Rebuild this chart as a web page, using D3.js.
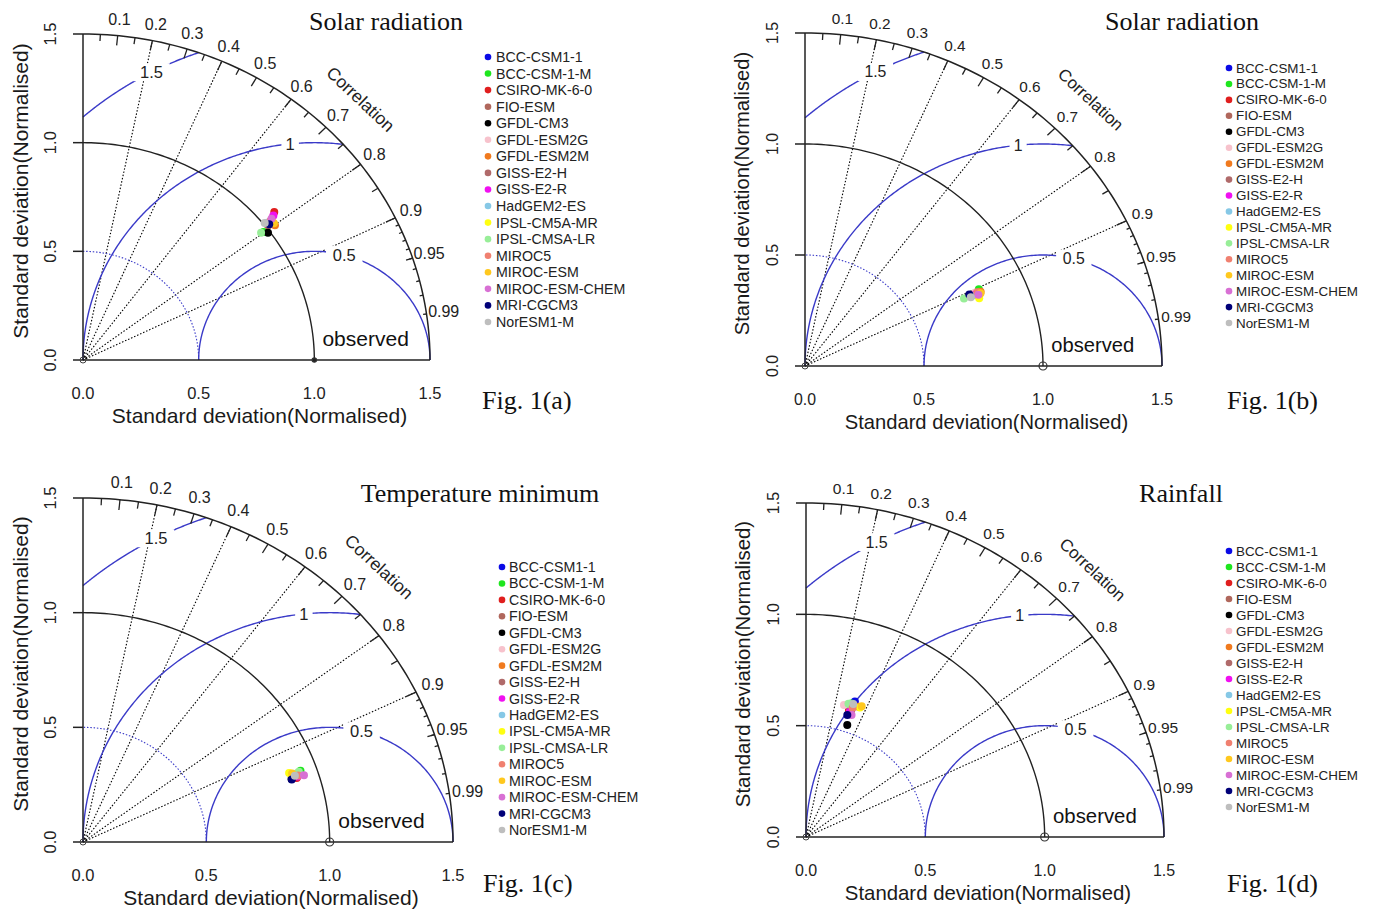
<!DOCTYPE html>
<html>
<head>
<meta charset="utf-8">
<script src="https://cdn.jsdelivr.net/npm/d3@7"></script>
<style>
  body { margin: 0; background: #fff; }
  svg { display: block; }
</style>
</head>
<body>
<svg id="chart" width="1375" height="912"></svg>
<script>
// model names and colours (same in every panel)
const models = ['BCC-CSM1-1', 'BCC-CSM-1-M', 'CSIRO-MK-6-0', 'FIO-ESM', 'GFDL-CM3', 'GFDL-ESM2G',
  'GFDL-ESM2M', 'GISS-E2-H', 'GISS-E2-R', 'HadGEM2-ES', 'IPSL-CM5A-MR', 'IPSL-CMSA-LR',
  'MIROC5', 'MIROC-ESM', 'MIROC-ESM-CHEM', 'MRI-CGCM3', 'NorESM1-M'];
const modelColors = ['#0a0ae6', '#1ee61e', '#e01e1e', '#b0675c', '#000000', '#f7c2cc',
  '#f07a1e', '#b06a6a', '#f010f0', '#86c8e6', '#ffff10', '#98ee98',
  '#f08070', '#ffc81e', '#d870d4', '#000078', '#bebebe'];

// axis values
const sdTicks = [0, 0.5, 1, 1.5];
const corrLabels = [0.1, 0.2, 0.3, 0.4, 0.5, 0.6, 0.7, 0.8, 0.9, 0.95, 0.99];
const corrLines = [0.2, 0.4, 0.6, 0.8, 0.9];
const rmsLevels = [0.5, 1, 1.5];
const maxSd = 1.5;
const refSd = 1;

const panelTitles = ['Solar radiation', 'Solar radiation', 'Temperature minimum', 'Rainfall'];
const figLabels = ['Fig. 1(a)', 'Fig. 1(b)', 'Fig. 1(c)', 'Fig. 1(d)'];

// normalised standard deviation and correlation of each model, per panel
const sdA = [1.018, 0.978, 1.071, 1.012, 0.991, 1.053, 1.036, 1.023, 1.058, 1.016, 1.036, 0.967, 1.032, 1.038, 1.042, 1.019, 1.007];
const corrA = [0.786, 0.798, 0.772, 0.790, 0.807, 0.779, 0.801, 0.792, 0.778, 0.783, 0.787, 0.796, 0.785, 0.795, 0.782, 0.790, 0.780];

const sdB = [0.770, 0.808, 0.792, 0.781, 0.760, 0.787, 0.810, 0.783, 0.790, 0.768, 0.793, 0.734, 0.797, 0.807, 0.796, 0.762, 0.762];
const corrB = [0.909, 0.904, 0.909, 0.909, 0.908, 0.908, 0.911, 0.913, 0.911, 0.912, 0.923, 0.910, 0.909, 0.914, 0.915, 0.906, 0.914];

const sdC = [0.895, 0.935, 0.910, 0.901, 0.889, 0.920, 0.912, 0.908, 0.916, 0.907, 0.888, 0.927, 0.919, 0.899, 0.942, 0.889, 0.906];
const corrC = [0.950, 0.943, 0.952, 0.949, 0.951, 0.945, 0.948, 0.947, 0.950, 0.946, 0.941, 0.944, 0.949, 0.943, 0.951, 0.952, 0.948];

const sdD = [0.642, 0.629, 0.598, 0.604, 0.532, 0.614, 0.625, 0.601, 0.592, 0.625, 0.624, 0.624, 0.612, 0.632, 0.580, 0.575, 0.629];
const corrD = [0.319, 0.302, 0.301, 0.306, 0.325, 0.259, 0.352, 0.316, 0.311, 0.294, 0.362, 0.285, 0.319, 0.369, 0.329, 0.301, 0.315];

const panelData = [[sdA, corrA], [sdB, corrB], [sdC, corrC], [sdD, corrD]];

// pixel layout of each panel
const layout = [
  { ox: 83, oy: 360, xr: 430, yt: 34, fs: 1.0, obsFilled: true,
    titleX: 386, titleY: 30, figX: 482, figY: 409,
    legDot: 488, legText: 496, legY: 57, legStep: 16.56, legFont: 14.2 },
  { ox: 805, oy: 366, xr: 1162, yt: 33, fs: 0.96, obsFilled: false,
    titleX: 1182, titleY: 30, figX: 1227, figY: 409,
    legDot: 1229, legText: 1236, legY: 68, legStep: 15.94, legFont: 13.4 },
  { ox: 83, oy: 842, xr: 453, yt: 498, fs: 1.0, obsFilled: false,
    titleX: 480, titleY: 502, figX: 483, figY: 892,
    legDot: 502, legText: 509, legY: 567, legStep: 16.44, legFont: 14.2 },
  { ox: 806, oy: 837, xr: 1164, yt: 503, fs: 0.97, obsFilled: false,
    titleX: 1181, titleY: 502, figX: 1227, figY: 892,
    legDot: 1229, legText: 1236, legY: 551, legStep: 16, legFont: 13.4 }
];

const blue = '#3a3ac8';
const sans = 'Liberation Sans, Arial, sans-serif';
const serif = 'Liberation Serif, Times New Roman, serif';

const svg = d3.select('#chart');

layout.forEach((L, p) => drawTaylor(L, p));

function drawTaylor(L, p) {
  const [sds, cors] = panelData[p];
  const g = svg.append('g');
  const x = d3.scaleLinear().domain([0, maxSd]).range([L.ox, L.xr]);
  const y = d3.scaleLinear().domain([0, maxSd]).range([L.oy, L.yt]);
  const line = d3.line().x(d => x(d[0])).y(d => y(d[1]));

  // arc around the origin
  function sdArc(r) {
    return d3.range(0, 91, 1).map(a => [r * Math.cos(a * Math.PI / 180), r * Math.sin(a * Math.PI / 180)]);
  }

  // correlation rays
  corrLines.forEach(c => {
    g.append('path')
      .attr('d', line([[0, 0], [maxSd * c, maxSd * Math.sqrt(1 - c * c)]]))
      .attr('fill', 'none').attr('stroke', '#000').attr('stroke-width', 1.1)
      .attr('stroke-dasharray', '1.5,1.8');
  });

  // dotted blue sd arc at 0.5
  g.append('path').attr('d', line(sdArc(0.5)))
    .attr('fill', 'none').attr('stroke', blue).attr('stroke-width', 1.1)
    .attr('stroke-dasharray', '1.5,1.8');

  // RMS difference arcs centred on the observed point
  rmsLevels.forEach(r => {
    const t0 = Math.acos(Math.max(-1, Math.min(1, (maxSd * maxSd - refSd * refSd - r * r) / (2 * refSd * r))));
    const t1 = Math.acos(Math.max(-1, -refSd / r));
    const pts = d3.range(0, 201).map(i => {
      const t = t0 + (t1 - t0) * i / 200;
      return [refSd + r * Math.cos(t), r * Math.sin(t)];
    });
    g.append('path').attr('d', line(pts))
      .attr('fill', 'none').attr('stroke', blue).attr('stroke-width', 1.4);
  });

  // reference arc and outer arc
  g.append('path').attr('d', line(sdArc(refSd)))
    .attr('fill', 'none').attr('stroke', '#222').attr('stroke-width', 1.4);
  g.append('path').attr('d', line(sdArc(maxSd)))
    .attr('fill', 'none').attr('stroke', '#222').attr('stroke-width', 1.5);

  // axes
  g.append('line').attr('x1', x(0)).attr('x2', x(maxSd)).attr('y1', y(0)).attr('y2', y(0))
    .attr('stroke', '#222').attr('stroke-width', 1.5);
  g.append('line').attr('x1', x(0)).attr('x2', x(0)).attr('y1', y(0)).attr('y2', y(maxSd))
    .attr('stroke', '#222').attr('stroke-width', 1.5);
  sdTicks.forEach(v => {
    g.append('line').attr('x1', x(0) - 10).attr('x2', x(0)).attr('y1', y(v)).attr('y2', y(v))
      .attr('stroke', '#222').attr('stroke-width', 1.5);
    g.append('text')
      .attr('transform', `translate(${x(0) - 33},${y(v)}) rotate(-90)`)
      .attr('text-anchor', 'middle').attr('dominant-baseline', 'central')
      .style('font-family', sans).style('font-size', `${16.5 * L.fs}px`).attr('fill', '#222')
      .text(d3.format('.1f')(v));
    g.append('text')
      .attr('x', x(v)).attr('y', y(0) + 39)
      .attr('text-anchor', 'middle')
      .style('font-family', sans).style('font-size', `${16.5 * L.fs}px`).attr('fill', '#222')
      .text(d3.format('.1f')(v));
  });

  // axis titles
  g.append('text')
    .attr('x', (x(0) + x(maxSd)) / 2 + 3).attr('y', y(0) + 63)
    .attr('text-anchor', 'middle')
    .style('font-family', sans).style('font-size', `${21 * L.fs}px`).attr('fill', '#1a1a1a')
    .text('Standard deviation(Normalised)');
  g.append('text')
    .attr('transform', `translate(${x(0) - 63},${(y(0) + y(maxSd)) / 2 - 6}) rotate(-90)`)
    .attr('text-anchor', 'middle').attr('dominant-baseline', 'central')
    .style('font-family', sans).style('font-size', `${21 * L.fs}px`).attr('fill', '#1a1a1a')
    .text('Standard deviation(Normalised)');

  // correlation ticks on the outer arc
  const tickSets = [
    [d3.range(1, 10).map(i => i / 10), 0.97],
    [d3.range(0, 10).map(i => 0.05 + i / 10), 0.98],
    [d3.range(1, 10).map(i => 0.9 + i / 100), 0.99]
  ];
  tickSets.forEach(([vals, k]) => {
    vals.forEach(c => {
      const s = Math.sqrt(1 - c * c);
      g.append('line')
        .attr('x1', x(maxSd * c)).attr('y1', y(maxSd * s))
        .attr('x2', x(k * maxSd * c)).attr('y2', y(k * maxSd * s))
        .attr('stroke', '#222').attr('stroke-width', 1.3);
    });
  });
  corrLabels.forEach(c => {
    const s = Math.sqrt(1 - c * c);
    g.append('text')
      .attr('x', x(1.05 * maxSd * c)).attr('y', y(1.05 * maxSd * s))
      .attr('text-anchor', 'middle').attr('dominant-baseline', 'central')
      .style('font-family', sans).style('font-size', `${16 * L.fs}px`).attr('fill', '#222')
      .text(c);
  });
  const rotAng = Math.atan2(Math.abs(y(1) - y(0)), x(1) - x(0)) * 180 / Math.PI;
  g.append('text')
    .attr('transform', `translate(${x(0.8 * maxSd)},${y(0.8 * maxSd)}) rotate(${rotAng})`)
    .attr('text-anchor', 'middle').attr('dominant-baseline', 'central')
    .style('font-family', sans).style('font-size', `${17.5 * L.fs}px`).attr('fill', '#222')
    .text('Correlation');

  // RMS labels with white boxes
  const rmsAngles = [75, 96, 118];
  rmsLevels.forEach((r, i) => {
    const a = rmsAngles[i] * Math.PI / 180;
    const cx = x(refSd + r * Math.cos(a)), cy = y(r * Math.sin(a));
    const lab = String(r);
    const w = lab.length * 9.5 * L.fs + 8;
    g.append('rect').attr('x', cx - w / 2).attr('y', cy - 9).attr('width', w).attr('height', 18)
      .attr('fill', '#fff');
    g.append('text').attr('x', cx).attr('y', cy)
      .attr('text-anchor', 'middle').attr('dominant-baseline', 'central')
      .style('font-family', sans).style('font-size', `${16.5 * L.fs}px`).attr('fill', '#222')
      .text(lab);
  });

  // observed point and origin marker
  g.append('circle').attr('cx', x(0)).attr('cy', y(0)).attr('r', 3)
    .attr('fill', 'none').attr('stroke', '#444').attr('stroke-width', 1);
  g.append('circle').attr('cx', x(refSd)).attr('cy', y(0)).attr('r', L.obsFilled ? 2.2 : 4)
    .attr('fill', L.obsFilled ? '#222' : 'none').attr('stroke', '#333').attr('stroke-width', 1.2);
  g.append('text')
    .attr('x', x(1.035)).attr('y', y(0) - 14)
    .style('font-family', sans).style('font-size', `${21 * L.fs}px`).attr('fill', '#111')
    .text('observed');

  // model points
  g.selectAll('circle.model')
    .data(models.map((m, i) => ({ m, sd: sds[i], r: cors[i], col: modelColors[i] })))
    .enter().append('circle')
    .attr('class', 'model')
    .attr('cx', d => x(d.sd * d.r))
    .attr('cy', d => y(d.sd * Math.sqrt(1 - d.r * d.r)))
    .attr('r', 4)
    .attr('fill', d => d.col);

  // legend
  const leg = g.append('g');
  models.forEach((m, i) => {
    const ly = L.legY + i * L.legStep;
    leg.append('circle').attr('cx', L.legDot).attr('cy', ly).attr('r', 3.3).attr('fill', modelColors[i]);
    leg.append('text').attr('x', L.legText).attr('y', ly)
      .attr('dominant-baseline', 'central')
      .style('font-family', sans).style('font-size', `${L.legFont}px`).attr('fill', '#222')
      .text(m);
  });

  // titles
  g.append('text').attr('x', L.titleX).attr('y', L.titleY)
    .attr('text-anchor', 'middle')
    .style('font-family', serif).style('font-size', '26px').attr('fill', '#111')
    .text(panelTitles[p]);
  g.append('text').attr('x', L.figX).attr('y', L.figY)
    .style('font-family', serif).style('font-size', '26px').attr('fill', '#111')
    .text(figLabels[p]);
}
</script>
</body>
</html>
